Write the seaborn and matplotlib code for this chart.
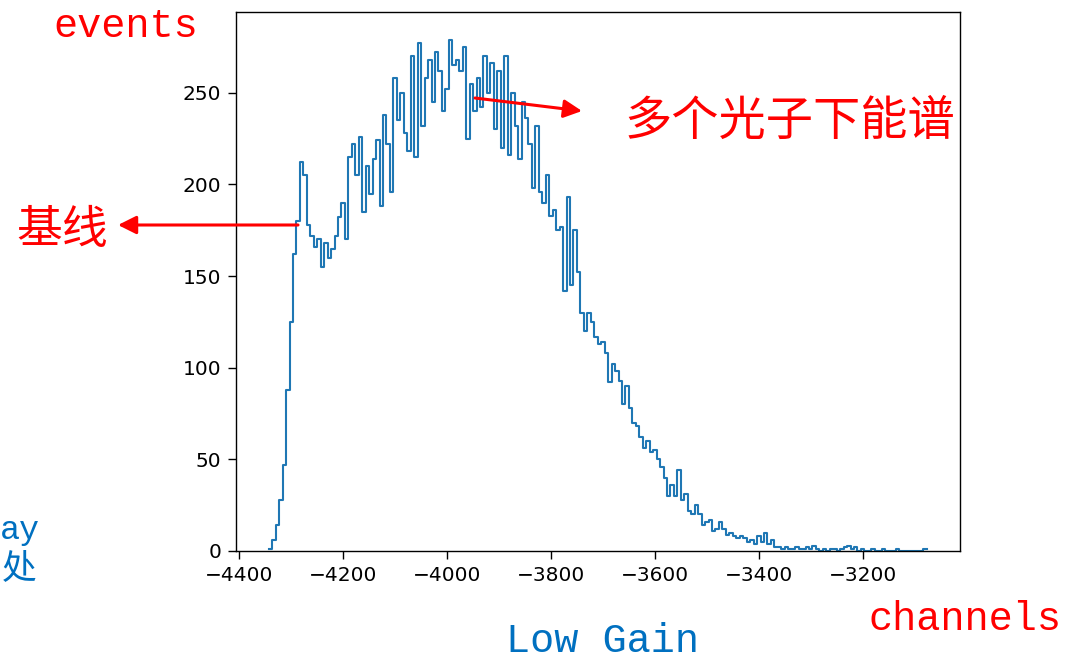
import numpy as np
import pandas as pd
import matplotlib
matplotlib.use("Agg")
import matplotlib.pyplot as plt
import seaborn as sns

# ---- data ----
x_min, x_max = -4343, -3077
counts = [
    1, 6, 14, 28, 47, 88, 125, 162, 180, 212,
    205, 178, 172, 166, 170, 155, 168, 160, 165, 172,
    182, 190, 170, 215, 222, 205, 226, 185, 210, 195,
    214, 224, 188, 238, 222, 196, 258, 235, 250, 228,
    218, 270, 215, 277, 232, 258, 268, 245, 272, 262,
    240, 252, 279, 265, 268, 262, 275, 225, 255, 240,
    258, 242, 270, 250, 266, 230, 262, 220, 270, 216,
    250, 232, 214, 245, 236, 222, 198, 232, 196, 190,
    205, 183, 186, 175, 177, 142, 193, 145, 175, 152,
    130, 120, 130, 125, 117, 113, 114, 108, 92, 102,
    98, 93, 80, 90, 78, 70, 68, 62, 56, 60,
    54, 55, 50, 46, 40, 30, 36, 30, 44, 28,
    31, 22, 20, 25, 20, 14, 16, 17, 11, 12,
    16, 12, 9, 10, 8, 7, 8, 7, 5, 6,
    4, 8, 5, 10, 4, 6, 2, 2, 1, 2,
    1, 1, 2, 1, 1, 2, 1, 3, 1, 0,
    1, 0, 1, 1, 0, 1, 2, 3, 1, 2,
    0, 1, 0, 0, 1, 0, 0, 1, 0, 0,
    0, 1, 0, 0, 0, 0, 0, 0, 0, 1,
]
x_ticks = [-4400, -4200, -4000, -3800, -3600, -3400, -3200]
y_ticks = [0, 50, 100, 150, 200, 250]

edges = np.linspace(x_min, x_max, len(counts) + 1)
centers = (edges[:-1] + edges[1:]) / 2
df = pd.DataFrame({"channel": centers, "events": counts})

RED = "#FF0000"
BLUE = "#0070C0"
W, H = 1083, 660

fig = plt.figure(figsize=(W / 100, H / 100), dpi=100)
ax = fig.add_axes([236 / W, 1 - 551 / H, (960 - 236) / W, (551 - 12) / H])

sns.histplot(data=df, x="channel", weights="events", bins=len(counts),
             binrange=(x_min, x_max),
             element="step", fill=False, color="#1f77b4",
             linewidth=1.5, ax=ax)

ax.set_xlim(-4406, -3013)
ax.set_ylim(0, 294)
ax.set_xticks(x_ticks)
ax.set_yticks(y_ticks)
ax.set_xlabel("")
ax.set_ylabel("")
ax.tick_params(labelsize=14.5, length=6, width=1.0, pad=4.5)
for sp in ax.spines.values():
    sp.set_linewidth(1.0)
    sp.set_color("black")

# ---- slide annotations ----
mono = ["Liberation Mono", "DejaVu Sans Mono"]
cjk = ["Noto Sans CJK SC", "DejaVu Sans"]

fig.text(126 / W, 1 - 37 / H, "events", color=RED, fontsize=29,
         family=mono, ha="center", va="baseline")
fig.text(965 / W, 1 - 630 / H, "channels", color=RED, fontsize=29,
         family=mono, ha="center", va="baseline")
fig.text(602 / W, 1 - 652 / H, "Low Gain", color=BLUE, fontsize=29,
         family=mono, ha="center", va="baseline")
fig.text(790 / W, 1 - 122 / H, "多个光子下能谱", color=RED, fontsize=34,
         family=cjk, ha="center", va="center")
fig.text(62 / W, 1 - 230 / H, "基线", color=RED, fontsize=33,
         family=cjk, ha="center", va="center")
fig.text(40 / W, 1 - 539 / H, "ay", color=BLUE, fontsize=24,
         family=mono, ha="right", va="baseline")
fig.text(37 / W, 1 - 569 / H, "处", color=BLUE, fontsize=25,
         family=cjk, ha="right", va="center")

arrow = dict(arrowstyle="-|>,head_length=1.0,head_width=0.5", color=RED,
             lw=2.2, mutation_scale=11, shrinkA=0, shrinkB=0)
ax.annotate("", xy=(118, H - 225), xytext=(298, H - 225),
            xycoords="figure pixels", textcoords="figure pixels",
            arrowprops=arrow, annotation_clip=False)
ax.annotate("", xy=(582, H - 111), xytext=(475, H - 98),
            xycoords="figure pixels", textcoords="figure pixels",
            arrowprops=arrow, annotation_clip=False)

fig.savefig("out.png", dpi=100)
